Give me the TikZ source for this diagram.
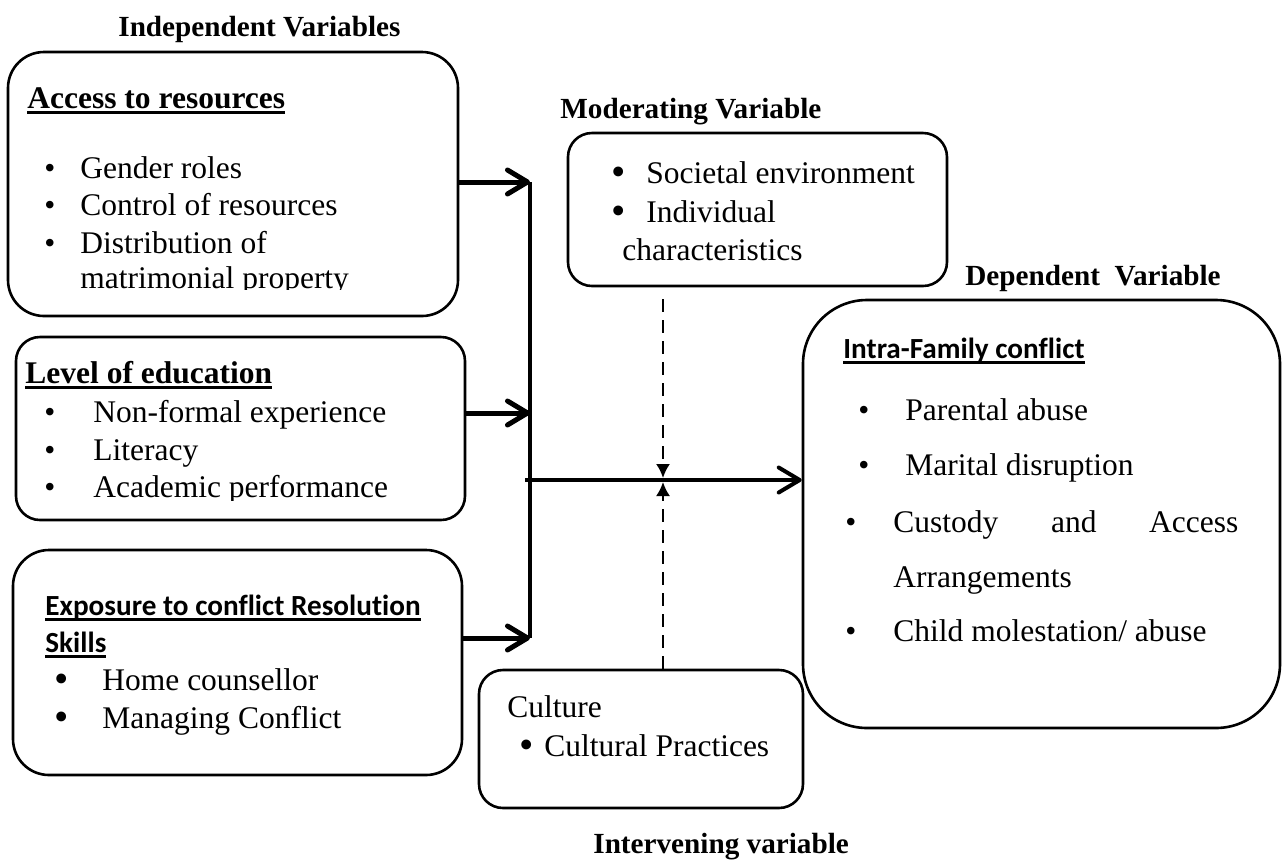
\documentclass[tikz,border=0pt]{standalone}
\usepackage{fontspec}
\usepackage{graphicx}
\setmainfont{Liberation Serif}
\newfontfamily\calib[Ligatures=CommonOff]{Carlito}
\usetikzlibrary{arrows.meta}
\newcommand{\body}{\fontsize{15.75pt}{18pt}\selectfont}
\newcommand{\head}{\fontsize{14.6pt}{17pt}\selectfont\bfseries}
\newcommand{\shead}{\fontsize{14.6pt}{17pt}\selectfont\calib\bfseries}
\newcommand{\blt}[1]{\makebox[#1][l]{\textbullet}}
\newcommand{\bigblt}[1]{\makebox[#1][l]{\raisebox{-1.4pt}[0pt][0pt]{\scalebox{1.3}{\textbullet}}}}
\newlength{\ulwd}
\newcommand{\ulin}[1]{\settowidth{\ulwd}{#1}\rlap{\rule[-2.8pt]{\ulwd}{1.1pt}}#1}

\begin{document}
\begin{tikzpicture}[x=0.5pt,y=-0.5pt,
    box/.style={draw,line width=1.3pt,inner sep=0pt},
    txt/.style={anchor=base west,inner sep=0pt,font=\body},
    hd/.style={anchor=base west,inner sep=0pt,font=\head},
    feedarrow/.style={line width=2.5pt,-{Straight Barb[length=10pt,width=12pt,round]}},
    mainarrow/.style={line width=2pt,-{Straight Barb[length=10.5pt,width=12.5pt,round]}},
    modarrow/.style={line width=1pt,dash pattern=on 6.5pt off 4pt,-{Latex[length=7pt,width=7pt]}}]
    \useasboundingbox (0,0) rectangle (1282,859);
    \node[hd] (indep) at (118,36) {Independent Variables};
    \node[hd] (moder) at (560,118) {Moderating Variable};
    \node[hd] (depend) at (965,285) {Dependent\ \ Variable};
    \node[hd] (interv) at (593,853) {Intervening variable};
    \node[box,minimum width=225pt,minimum height=132pt,rounded corners=18pt] (access) at (233,184) {};
    \node[box,minimum width=224.5pt,minimum height=91.5pt,rounded corners=12pt] (level) at (240.5,428.5) {};
    \node[box,minimum width=224.5pt,minimum height=112.5pt,rounded corners=18pt] (expo) at (237.5,662.5) {};
    \node[box,minimum width=189.5pt,minimum height=76.5pt,rounded corners=12pt] (modbox) at (757.5,209.5) {};
    \node[box,minimum width=162pt,minimum height=69pt,rounded corners=12pt] (culture) at (641,739) {};
    \node[box,minimum width=238.5pt,minimum height=214pt,rounded corners=32pt] (depbox) at (1041.5,514) {};
    \node[txt,font=\body\bfseries] (acchd) at (27,108) {\ulin{Access to resources}};
    \node[txt] (acc1) at (44,178) {\blt{18pt}Gender roles};
    \node[txt] (acc2) at (44,215) {\blt{18pt}Control of resources};
    \node[txt] (acc3) at (44,253) {\blt{18pt}Distribution of};
    \begin{scope}
        \clip (0,0) rectangle (470,289);
        \node[txt] (acc4) at (80,288) {matrimonial property};
    \end{scope}
    \node[txt,font=\body\bfseries] (levhd) at (25,383) {\ulin{Level of education}};
    \node[txt] (lev1) at (44,422) {\blt{24.5pt}Non-formal experience};
    \node[txt] (lev2) at (44,460) {\blt{24.5pt}Literacy};
    \begin{scope}
        \clip (0,300) rectangle (470,500);
        \node[txt] (lev3) at (44,497) {\blt{24.5pt}Academic performance};
    \end{scope}
    \node[txt,font=\shead] (exphd1) at (45,615) {\ulin{Exposure to conflict Resolution}};
    \node[txt,font=\shead] (exphd2) at (45,652) {\ulin{Skills}};
    \node[txt] (exp1) at (54,690) {\bigblt{24pt}Home counsellor};
    \node[txt] (exp2) at (54,728) {\bigblt{24pt}Managing Conflict};
    \node[txt] (mod1) at (611,183) {\bigblt{17.5pt}Societal environment};
    \node[txt] (mod2) at (611,222) {\bigblt{17.5pt}Individual};
    \node[txt] (mod3) at (622,260) {characteristics};
    \node[txt] (cul0) at (507,717) {Culture};
    \node[txt] (cul1) at (519,756) {\bigblt{12.5pt}Cultural Practices};
    \node[txt,font=\shead] (dephd) at (843,358) {\ulin{Intra-Family conflict}};
    \node[txt] (dep1) at (858,420) {\blt{23.5pt}Parental abuse};
    \node[txt] (dep2) at (858,475) {\blt{23.5pt}Marital disruption};
    \node[txt] (dep3) at (845,532) {\blt{24pt}\makebox[172.5pt][s]{Custody\hfill and\hfill Access}};
    \node[txt] (dep4) at (893,587) {Arrangements};
    \node[txt] (dep5) at (845,641) {\blt{24pt}Child molestation/ abuse};
    \coordinate (j1) at (530,182);
    \coordinate (j2) at (530,413);
    \coordinate (j3) at (530,638);
    \coordinate (hub) at (525,480);
    \coordinate (mid) at (663,480);
    \draw[feedarrow] (access.east |- j1) -- (j1);
    \draw[feedarrow] (level.east |- j2) -- (j2);
    \draw[feedarrow] (expo.east |- j3) -- (j3);
    \draw[line width=1.7pt] (j1) -- (j3);
    \draw[mainarrow] (hub) -- (hub -| depbox.west);
    \draw[modarrow,shorten <=6pt] (mid |- modbox.south) -- ([yshift=1pt]mid);
    \draw[modarrow] (mid |- culture.north) -- ([yshift=-1pt]mid);
\end{tikzpicture}
\end{document}
